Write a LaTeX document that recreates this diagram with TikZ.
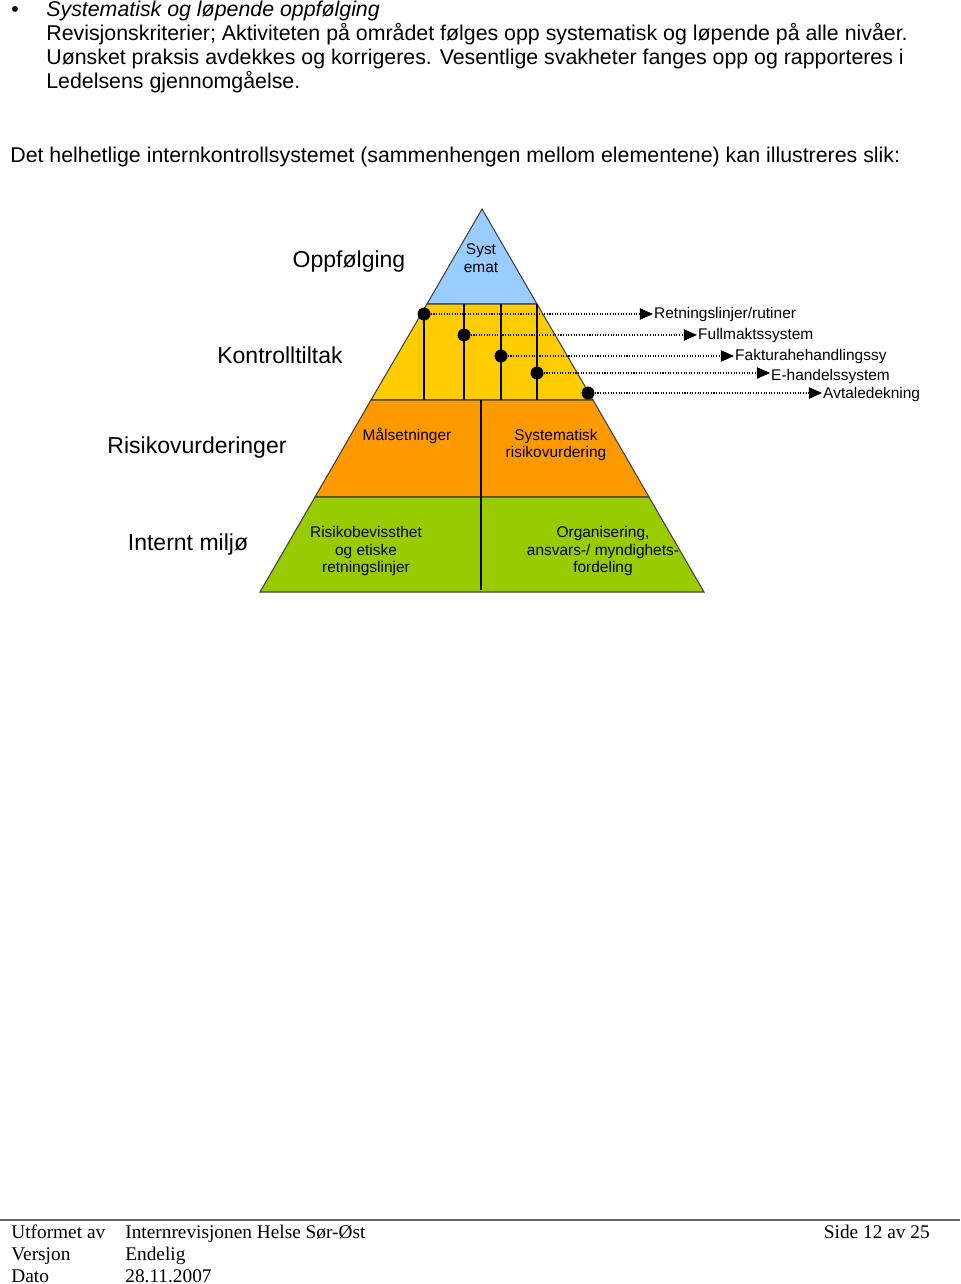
\documentclass[tikz,border=0pt]{standalone}
\usepackage{fontspec}
\setmainfont{Liberation Sans}
\newfontfamily\footerfont{Liberation Serif}
\usetikzlibrary{arrows.meta,positioning}
\definecolor{toppblaa}{RGB}{153,204,255}
\definecolor{gul}{RGB}{255,204,0}
\definecolor{oransje}{RGB}{255,153,0}
\definecolor{groenn}{RGB}{153,204,0}
\tikzstyle{tier}=[draw=black!75,line width=0.6pt]
\tikzstyle{divider}=[black,line width=1.1pt]
\tikzstyle{knot}=[circle,fill=black,inner sep=0pt,minimum size=2.6mm]
\tikzstyle{pointer}=[line width=0.6pt,dash pattern=on 0.6pt off 0.9pt,-{Triangle[length=7.5pt,width=6.5pt]}]
\tikzstyle{levellabel}=[inner sep=0pt,font=\fontsize{13.1}{15}\selectfont]
\tikzstyle{cell}=[align=center,inner sep=0pt,font=\fontsize{8.8}{10.2}\selectfont]
\tikzstyle{itemlabel}=[anchor=west,inner sep=0.5pt,font=\fontsize{8.8}{10}\selectfont]
\tikzstyle{bodytext}=[anchor=base west,inner sep=0pt,font=\fontsize{12.15}{13.6}\selectfont]
\tikzstyle{foot}=[anchor=base west,inner sep=0pt,font=\footerfont\fontsize{11}{12.5}\selectfont]

\begin{document}
\begin{tikzpicture}[x=0.02cm,y=-0.02cm]
    \useasboundingbox (0,0) rectangle (960,1284);

    % Tekst
    \node[bodytext] (bullet) at (11,17) {\textbullet};
    \node[bodytext] (head) at (46,17) {\itshape Systematisk og løpende oppfølging};
    \node[bodytext] (line1) at (46,41) {Revisjonskriterier; Aktiviteten på området følges opp systematisk og løpende på alle nivåer.};
    \node[bodytext] (line2) at (46,65) {Uønsket praksis avdekkes og korrigeres. Vesentlige svakheter fanges opp og rapporteres i};
    \node[bodytext] (line3) at (46,89) {Ledelsens gjennomgåelse.};
    \node[bodytext] (intro) at (10,163) {Det helhetlige internkontrollsystemet (sammenhengen mellom elementene) kan illustreres slik:};

    % Pyramide
    \draw[tier,fill=toppblaa] (482,209) -- (427,304) -- (537,304) -- cycle;
    \draw[tier,fill=gul] (427,304) -- (371,400) -- (593,400) -- (537,304) -- cycle;
    \draw[tier,fill=oransje] (371,400) -- (315,497) -- (649,497) -- (593,400) -- cycle;
    \draw[tier,fill=groenn] (315,497) -- (260,592) -- (704,592) -- (649,497) -- cycle;
    \draw[divider] (481,400) -- (481,497);
    \draw[divider] (481,497) -- (481,590);

    % Nivåer
    \node[levellabel] (oppf) at (349,262) {Oppfølging};
    \node[levellabel] (kontr) at (280,355) {Kontrolltiltak};
    \node[levellabel] (risiko) at (197,448) {Risikovurderinger};
    \node[levellabel] (miljo) at (188,545) {Internt miljø};

    % Felter
    \node[cell] (syst) at (481,258) {Syst\\emat};
    \node[cell] (maal) at (407,436) {Målsetninger};
    \node[cell] (sysrisk) at (556,445) {Systematisk\\risikovurdering};
    \node[cell] (bevisst) at (366,551) {Risikobevissthet\\og etiske\\retningslinjer};
    \node[cell] (organ) at (603,551) {Organisering,\\ansvars-/ myndighets-\\fordeling};

    % Kontrolltiltak
    \draw[divider] (424,314) -- (424,400);
    \draw[divider] (464,304) -- (464,400);
    \draw[divider] (501,304) -- (501,400);
    \draw[divider] (537,304) -- (537,400);
    \node[knot] (k1) at (424,314) {};
    \node[knot] (k2) at (464,335) {};
    \node[knot] (k3) at (501,356) {};
    \node[knot] (k4) at (537,373) {};
    \node[knot] (k5) at (588,393) {};

    \node[itemlabel] (r1) at (653,315) {Retningslinjer/rutiner};
    \node[itemlabel] (r2) at (697,336) {Fullmaktssystem};
    \node[itemlabel] (r3) at (734,357) {Fakturahehandlingssy};
    \node[itemlabel] (r4) at (770,377) {E-handelssystem};
    \node[itemlabel] (r5) at (822,395) {Avtaledekning};

    \draw[pointer] (k1) -- (r1.west |- k1);
    \draw[pointer] (k2) -- (r2.west |- k2);
    \draw[pointer] (k3) -- (r3.west |- k3);
    \draw[pointer] (k4) -- (r4.west |- k4);
    \draw[pointer] (k5) -- (r5.west |- k5);

    % Bunntekst
    \draw[black!60,line width=1.5pt] (0,1220) -- (960,1220);
    \node[foot] (utf) at (11,1238) {Utformet av};
    \node[foot] (utfv) at (125,1238) {Internrevisjonen Helse Sør-Øst};
    \node[foot,anchor=base east] (side) at (930,1238) {Side 12 av 25};
    \node[foot] (vers) at (11,1260) {Versjon};
    \node[foot] (versv) at (125,1260) {Endelig};
    \node[foot] (dato) at (11,1282) {Dato};
    \node[foot] (datov) at (125,1282) {28.11.2007};

\end{tikzpicture}
\end{document}
